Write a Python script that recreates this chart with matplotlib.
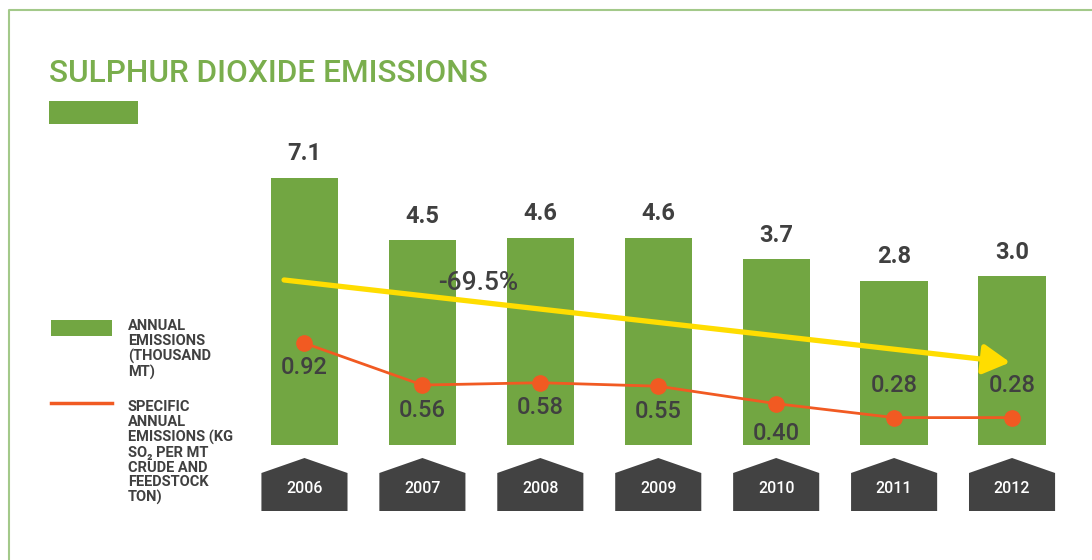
import numpy as np
import matplotlib.pyplot as plt
from matplotlib.patches import Polygon, Rectangle
from matplotlib.lines import Line2D

# Данные
years = ["2006", "2007", "2008", "2009", "2010", "2011", "2012"]
annual_emissions = [7.1, 4.5, 4.6, 4.6, 3.7, 2.8, 3.0]  # тыс. т
specific_emissions = [0.92, 0.56, 0.58, 0.55, 0.40, 0.28, 0.28]  # кг SO2 / т
specific_labels = ["0.92", "0.56", "0.58", "0.55", "0.40", "0.28", "0.28"]
change_label = "-69.5%"

W, H = 1092, 560
GREEN = "#72a642"
TITLE_GREEN = "#7aae4d"
ORANGE = "#f15a22"
YELLOW = "#ffdd00"
DARK = "#404040"
FONT = ["Roboto", "DejaVu Sans"]

plt.rcParams["font.family"] = FONT


def fx(px):
    return px / W


def fy(py):
    return 1 - py / H


fig = plt.figure(figsize=(W / 100, H / 100), dpi=100)

# рамка
fig.add_artist(Line2D([fx(8.5), fx(8.5), 1.0], [0.0, fy(9.5), fy(9.5)],
                      color="#a3c98a", lw=1.5))

# заголовок
fig.text(fx(49), fy(82), "SULPHUR DIOXIDE EMISSIONS", color=TITLE_GREEN,
         fontsize=22.8, fontweight="medium", va="baseline", ha="left")
fig.add_artist(Rectangle((fx(49), fy(124)), fx(89), 23 / H, color=GREEN, lw=0))

# легенда
fig.add_artist(Rectangle((fx(51), fy(336)), fx(61), 16 / H, color=GREEN, lw=0))
fig.text(fx(128), fy(319), "ANNUAL\nEMISSIONS\n(THOUSAND\nMT)", color=DARK,
         fontsize=10.5, fontweight="bold", va="top", ha="left", linespacing=1.08)
fig.add_artist(Line2D([fx(51), fx(112)], [fy(403), fy(403)], color=ORANGE, lw=2.5))
fig.text(fx(128), fy(400),
         "SPECIFIC\nANNUAL\nEMISSIONS (KG\nSO\u2082 PER MT\nCRUDE AND\nFEEDSTOCK\nTON)",
         color=DARK, fontsize=10.5, fontweight="bold", va="top", ha="left",
         linespacing=1.08)

# столбцы
x = np.arange(len(years))
ax_left, ax_right = 245.5, 1071
ax = fig.add_axes([fx(ax_left), fy(445), fx(ax_right - ax_left), 305 / H])
BASE = -4.05
vals = np.array(annual_emissions)
ax.bar(x, vals - BASE, bottom=BASE, width=0.57, color=GREEN, zorder=2)
ax.set_xlim(-0.5, len(years) - 0.5)
ax.set_ylim(BASE, BASE + 305 / 23.95)
ax.axis("off")
for xi, v in zip(x, annual_emissions):
    ax.annotate(f"{v:.1f}", (xi, v), xytext=(0, 9), textcoords="offset points",
                ha="center", va="bottom", fontsize=17, fontweight="bold",
                color=DARK)

# стрелка тренда
ax.annotate("", xy=(5.984, -0.60), xytext=(-0.173, 2.84),
            arrowprops=dict(arrowstyle="-|>,head_length=0.9,head_width=0.5",
                            color=YELLOW, lw=3.8, mutation_scale=18,
                            shrinkA=0, shrinkB=0), zorder=3)
ax.text(1.472, 2.714, change_label, ha="center", va="center", fontsize=19,
        fontweight="medium", color=DARK, zorder=4)

# линия удельных выбросов
ax2 = ax.twinx()
ax2.set_ylim(0.0445, 2.667)
ax2.plot(x, specific_emissions, color=ORANGE, lw=2, marker="o", markersize=11,
         zorder=3)
ax2.axis("off")
offsets = [-24, -25, -25, -25, -30, 32, 32]
for xi, v, lab, off in zip(x, specific_emissions, specific_labels, offsets):
    ax2.annotate(lab, (xi, v), xytext=(0, off * 0.72), textcoords="offset points",
                 ha="center", va="center", fontsize=17, fontweight="medium",
                 color=DARK)

# подписи годов
ax3 = fig.add_axes([fx(ax_left), fy(511), fx(ax_right - ax_left), 53 / H])
ax3.set_xlim(-0.5, len(years) - 0.5)
ax3.set_ylim(0, 1)
ax3.axis("off")
hw = 0.365
for xi, yr in zip(x, years):
    ax3.add_patch(Polygon([(xi - hw, 0), (xi + hw, 0), (xi + hw, 0.717),
                           (xi, 1), (xi - hw, 0.717)], closed=True,
                          color="#424242", lw=0))
    ax3.text(xi, 0.43, yr, ha="center", va="center", color="white",
             fontsize=11.5, fontweight="medium")

fig.savefig("out.png", dpi=100)
